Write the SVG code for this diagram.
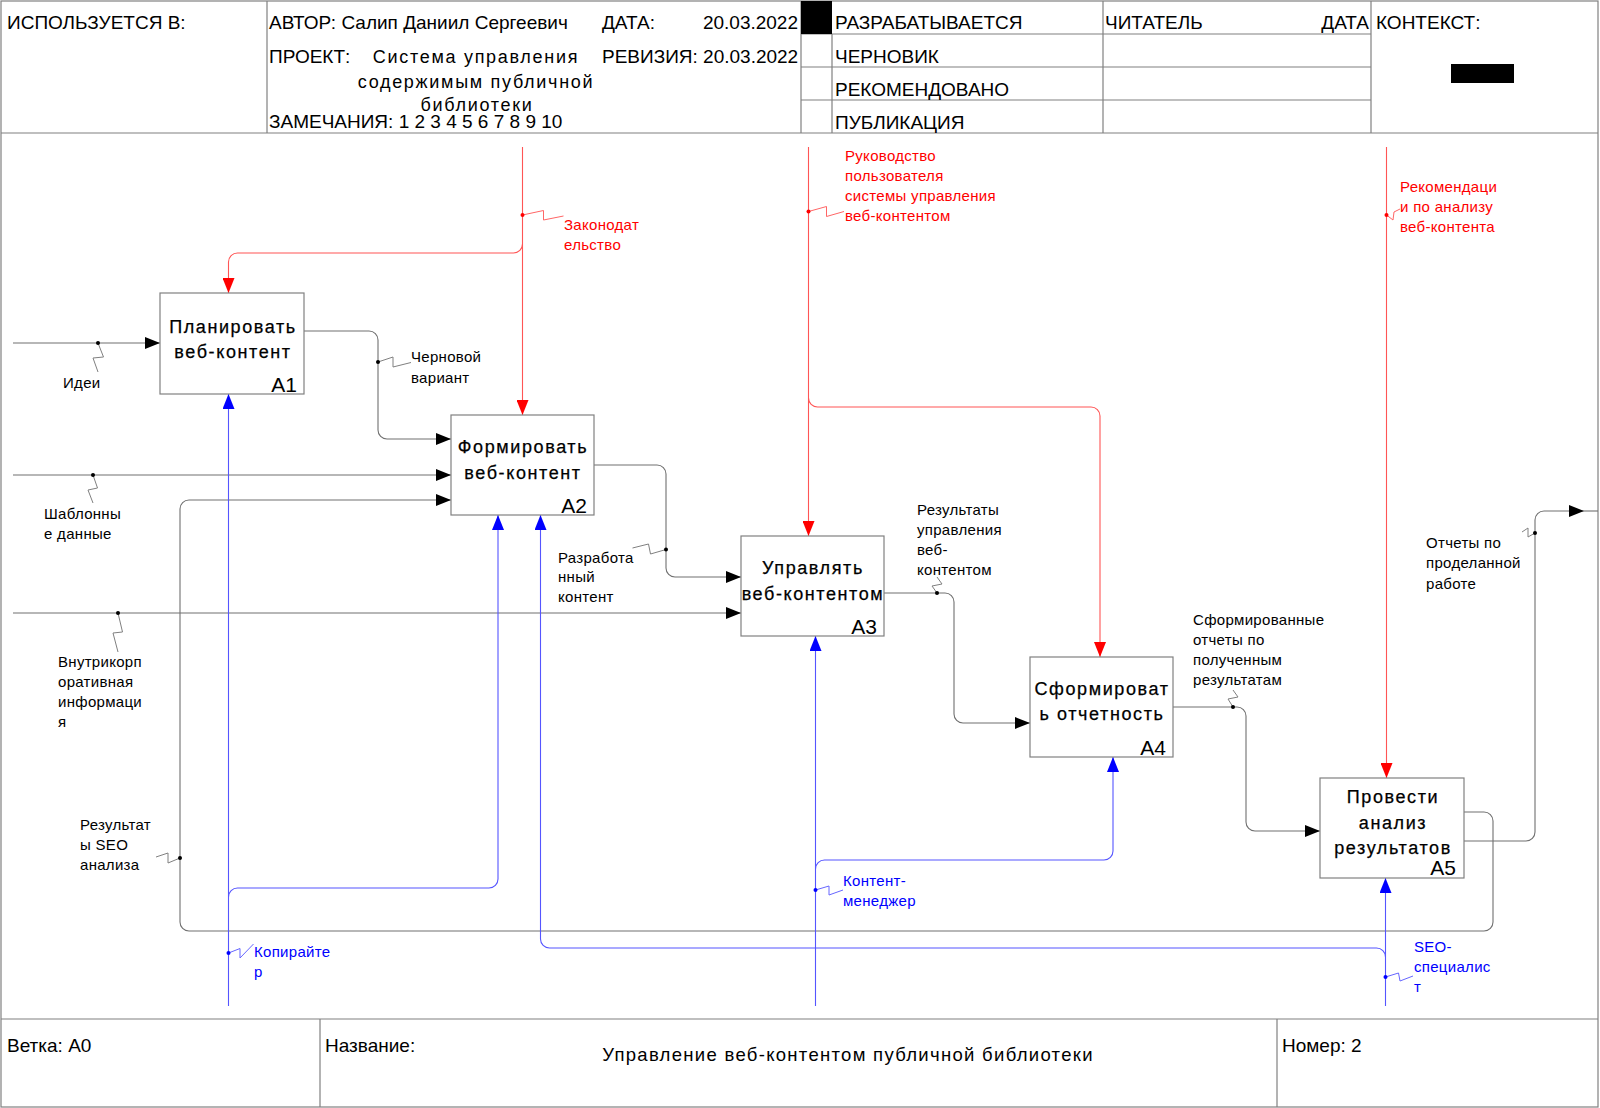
<svg xmlns="http://www.w3.org/2000/svg" width="1600" height="1108" viewBox="0 0 1600 1108">
<defs>
<style>
text{font-family:"Liberation Sans",Arial,sans-serif;fill:#000}
.hd{font-size:19px}
.pj{font-size:18px;letter-spacing:1.7px;text-anchor:middle}
.bx{font-size:18px;letter-spacing:1.6px;text-anchor:middle;stroke:#000;stroke-width:0.25}
.id{font-size:21px;text-anchor:end}
.lb{font-size:15px;letter-spacing:0.3px}
.lr{fill:#ff0000}
.lbl{fill:#0000ff}
.frame{fill:none;stroke:#808080;stroke-width:1.2}
.box{fill:#fff;stroke:#808080;stroke-width:1.2}
.ck{fill:none;stroke:#707070;stroke-width:1.1}
.cr{fill:none;stroke:#ff5555;stroke-width:1.1}
.cb{fill:none;stroke:#5555ff;stroke-width:1.1}
.sk{fill:none;stroke:#808080;stroke-width:1}
.sr{fill:none;stroke:#ff6666;stroke-width:1}
.sb{fill:none;stroke:#6666ff;stroke-width:1}
</style>
<marker id="ak" markerUnits="userSpaceOnUse" markerWidth="16" markerHeight="12" refX="15" refY="6" orient="auto"><path d="M0,0 L15,6 L0,12 z" fill="#000"/></marker>
<marker id="ar" markerUnits="userSpaceOnUse" markerWidth="16" markerHeight="12" refX="15" refY="6" orient="auto"><path d="M0,0 L15,6 L0,12 z" fill="#ff0000"/></marker>
<marker id="ab" markerUnits="userSpaceOnUse" markerWidth="16" markerHeight="12" refX="15" refY="6" orient="auto"><path d="M0,0 L15,6 L0,12 z" fill="#0000ff"/></marker>
</defs>
<rect width="1600" height="1108" fill="#fff"/>

<g id="header">
<rect class="frame" x="1" y="1" width="1597" height="1106"/>
<line class="frame" x1="1" y1="133" x2="1598" y2="133"/>
<line class="frame" x1="267" y1="1" x2="267" y2="133"/>
<line class="frame" x1="801" y1="1" x2="801" y2="133"/>
<line class="frame" x1="832" y1="34" x2="832" y2="133"/>
<line class="frame" x1="1103" y1="1" x2="1103" y2="133"/>
<line class="frame" x1="1371" y1="1" x2="1371" y2="133"/>
<line class="frame" x1="801" y1="34" x2="1371" y2="34"/>
<line class="frame" x1="801" y1="67" x2="1371" y2="67"/>
<line class="frame" x1="801" y1="100" x2="1371" y2="100"/>
<rect x="801" y="1" width="31" height="33" fill="#000"/>
<rect x="1451" y="64" width="63" height="19" fill="#000"/>
<text class="hd" x="7" y="29">ИСПОЛЬЗУЕТСЯ В:</text>
<text class="hd" x="269" y="29">АВТОР: Салип Даниил Сергеевич</text>
<text class="hd" x="602" y="29">ДАТА:</text>
<text class="hd" x="798" y="29" text-anchor="end">20.03.2022</text>
<text class="hd" x="269" y="63">ПРОЕКТ:</text>
<text class="pj" x="476" y="63">Система управления</text>
<text class="pj" x="476" y="88">содержимым публичной</text>
<text class="pj" x="477" y="111">библиотеки</text>
<text class="hd" x="602" y="63">РЕВИЗИЯ: 20.03.2022</text>
<text class="hd" x="269" y="128">ЗАМЕЧАНИЯ: 1 2 3 4 5 6 7 8 9 10</text>
<text class="hd" x="835" y="29">РАЗРАБАТЫВАЕТСЯ</text>
<text class="hd" x="835" y="63">ЧЕРНОВИК</text>
<text class="hd" x="835" y="96">РЕКОМЕНДОВАНО</text>
<text class="hd" x="835" y="129">ПУБЛИКАЦИЯ</text>
<text class="hd" x="1105" y="29">ЧИТАТЕЛЬ</text>
<text class="hd" x="1369" y="29" text-anchor="end">ДАТА</text>
<text class="hd" x="1376" y="29">КОНТЕКСТ:</text>
</g>

<g id="footer">
<line class="frame" x1="1" y1="1019" x2="1598" y2="1019"/>
<line class="frame" x1="320" y1="1019" x2="320" y2="1107"/>
<line class="frame" x1="1277" y1="1019" x2="1277" y2="1107"/>
<text class="hd" x="7" y="1052">Ветка: A0</text>
<text class="hd" x="325" y="1052">Название:</text>
<text x="848" y="1061" text-anchor="middle" style="font-size:18.5px;letter-spacing:1.3px">Управление веб-контентом публичной библиотеки</text>
<text class="hd" x="1282" y="1052">Номер: 2</text>
</g>

<g id="connectors">
<!-- inputs / outputs (black) -->
<path class="ck" d="M13,343 H160" marker-end="url(#ak)"/>
<path class="ck" d="M304,331 H369 A9,9 0 0 1 378,340 V430 A9,9 0 0 0 387,439 H451" marker-end="url(#ak)"/>
<path class="ck" d="M13,475 H451" marker-end="url(#ak)"/>
<path class="ck" d="M1464,812 H1484 A9,9 0 0 1 1493,821 V922 A9,9 0 0 1 1484,931 H189 A9,9 0 0 1 180,922 V509 A9,9 0 0 1 189,500 H451" marker-end="url(#ak)"/>
<path class="ck" d="M13,613 H741" marker-end="url(#ak)"/>
<path class="ck" d="M594,465 H657 A9,9 0 0 1 666,474 V568 A9,9 0 0 0 675,577 H741" marker-end="url(#ak)"/>
<path class="ck" d="M884,593 H945 A9,9 0 0 1 954,602 V714 A9,9 0 0 0 963,723 H1030" marker-end="url(#ak)"/>
<path class="ck" d="M1173,707 H1237 A9,9 0 0 1 1246,716 V822 A9,9 0 0 0 1255,831 H1320" marker-end="url(#ak)"/>
<path class="ck" d="M1464,841 H1526 A9,9 0 0 0 1535,832 V520 A9,9 0 0 1 1544,511 H1584" marker-end="url(#ak)"/>
<line class="ck" x1="1584" y1="511" x2="1598" y2="511"/>
<!-- controls (red) -->
<path class="cr" d="M522.5,147 V415" marker-end="url(#ar)"/>
<path class="cr" d="M522.5,244 A9,9 0 0 1 513.5,253 H237.5 A9,9 0 0 0 228.5,262 V293" marker-end="url(#ar)"/>
<path class="cr" d="M808.5,147 V536" marker-end="url(#ar)"/>
<path class="cr" d="M808.5,398 A9,9 0 0 0 817.5,407 H1091 A9,9 0 0 1 1100,416 V657" marker-end="url(#ar)"/>
<path class="cr" d="M1386.5,147 V778" marker-end="url(#ar)"/>
<!-- mechanisms (blue) -->
<path class="cb" d="M228.5,1006 V394" marker-end="url(#ab)"/>
<path class="cb" d="M228.5,897 A9,9 0 0 1 237.5,888 H489 A9,9 0 0 0 498,879 V515" marker-end="url(#ab)"/>
<path class="cb" d="M815.5,1006 V636" marker-end="url(#ab)"/>
<path class="cb" d="M815.5,869 A9,9 0 0 1 824.5,860 H1104 A9,9 0 0 0 1113,851 V757" marker-end="url(#ab)"/>
<path class="cb" d="M1385.5,1006 V878" marker-end="url(#ab)"/>
<path class="cb" d="M1385.5,957 A9,9 0 0 0 1376.5,948 H549.5 A9,9 0 0 1 540.5,939 V515" marker-end="url(#ab)"/>

<!-- label squiggles and dots -->
<polyline class="sk" points="98,343 103.5,357 93,358 98,372"/>
<circle cx="98" cy="343" r="2" fill="#000"/>
<polyline class="sk" points="378,362 393,357 393,367 411,362.5"/>
<circle cx="378" cy="362" r="2" fill="#000"/>
<polyline class="sk" points="93,475 97.5,488 88,490 93,503"/>
<circle cx="93" cy="475" r="2" fill="#000"/>
<polyline class="sk" points="156,857 168,853 168,863 180,858"/>
<circle cx="180" cy="858" r="2" fill="#000"/>
<polyline class="sk" points="118,613 122.5,632 113,633 118,652"/>
<circle cx="118" cy="613" r="2" fill="#000"/>
<polyline class="sk" points="632.5,548 648.5,544 650.5,554 666,549.5"/>
<circle cx="666" cy="549.5" r="2" fill="#000"/>
<polyline class="sk" points="937,593 932,586 942,584 937,577"/>
<circle cx="937" cy="593" r="2" fill="#000"/>
<polyline class="sk" points="1233,707 1228,699 1238,697 1233,690"/>
<circle cx="1233" cy="707" r="2" fill="#000"/>
<polyline class="sk" points="1535,533 1528,537 1528,528 1522,532"/>
<circle cx="1535" cy="533" r="2" fill="#000"/>
<polyline class="sr" points="522.5,215 543.5,210.5 543.5,220 563.5,216"/>
<circle cx="522.5" cy="215" r="2" fill="#ff0000"/>
<polyline class="sr" points="808.5,211.5 826.5,206.5 826.5,216.5 844,211.5"/>
<circle cx="808.5" cy="211.5" r="2" fill="#ff0000"/>
<polyline class="sr" points="1386.5,215 1393,220 1394,212 1400,209"/>
<circle cx="1386.5" cy="215" r="2" fill="#ff0000"/>
<polyline class="sb" points="228.5,953 240,948.5 240,958 253.5,944"/>
<circle cx="228.5" cy="953" r="2" fill="#0000ff"/>
<polyline class="sb" points="815.5,890 829,886 829,895 843,890"/>
<circle cx="815.5" cy="890" r="2" fill="#0000ff"/>
<polyline class="sb" points="1385.5,977 1398.5,973 1400,981 1413,976"/>
<circle cx="1385.5" cy="977" r="2" fill="#0000ff"/>

<!-- connector labels -->
<text class="lb" x="63" y="388">Идеи</text>
<text class="lb" x="411" y="362">Черновой</text>
<text class="lb" x="411" y="383">вариант</text>
<text class="lb" x="44" y="519">Шаблонны</text>
<text class="lb" x="44" y="539">е данные</text>
<text class="lb" x="80" y="830">Результат</text>
<text class="lb" x="80" y="850">ы SEO</text>
<text class="lb" x="80" y="870">анализа</text>
<text class="lb" x="58" y="667">Внутрикорп</text>
<text class="lb" x="58" y="687">оративная</text>
<text class="lb" x="58" y="707">информаци</text>
<text class="lb" x="58" y="727">я</text>
<text class="lb" x="558" y="563">Разработа</text>
<text class="lb" x="558" y="582">нный</text>
<text class="lb" x="558" y="602">контент</text>
<text class="lb" x="917" y="515">Результаты</text>
<text class="lb" x="917" y="535">управления</text>
<text class="lb" x="917" y="555">веб-</text>
<text class="lb" x="917" y="575">контентом</text>
<text class="lb" x="1193" y="625">Сформированные</text>
<text class="lb" x="1193" y="645">отчеты по</text>
<text class="lb" x="1193" y="665">полученным</text>
<text class="lb" x="1193" y="685">результатам</text>
<text class="lb" x="1426" y="548">Отчеты по</text>
<text class="lb" x="1426" y="568">проделанной</text>
<text class="lb" x="1426" y="589">работе</text>
<text class="lb lr" x="564" y="230">Законодат</text>
<text class="lb lr" x="564" y="250">ельство</text>
<text class="lb lr" x="845" y="161">Руководство</text>
<text class="lb lr" x="845" y="181">пользователя</text>
<text class="lb lr" x="845" y="201">системы управления</text>
<text class="lb lr" x="845" y="221">веб-контентом</text>
<text class="lb lr" x="1400" y="192">Рекомендаци</text>
<text class="lb lr" x="1400" y="212">и по анализу</text>
<text class="lb lr" x="1400" y="232">веб-контента</text>
<text class="lb lbl" x="254" y="957">Копирайте</text>
<text class="lb lbl" x="254" y="977">р</text>
<text class="lb lbl" x="843" y="886">Контент-</text>
<text class="lb lbl" x="843" y="906">менеджер</text>
<text class="lb lbl" x="1414" y="952">SEO-</text>
<text class="lb lbl" x="1414" y="972">специалис</text>
<text class="lb lbl" x="1414" y="992">т</text>
</g>

<g id="A1">
<rect class="box" x="160" y="293" width="144" height="101"/>
<text class="bx" x="233" y="333">Планировать</text>
<text class="bx" x="233" y="358">веб-контент</text>
<text class="id" x="297" y="392">A1</text>
</g>
<g id="A2">
<rect class="box" x="451" y="415" width="143" height="100"/>
<text class="bx" x="523" y="453">Формировать</text>
<text class="bx" x="523" y="479">веб-контент</text>
<text class="id" x="587" y="513">A2</text>
</g>
<g id="A3">
<rect class="box" x="741" y="536" width="143" height="100"/>
<text class="bx" x="813" y="574">Управлять</text>
<text class="bx" x="813" y="600">веб-контентом</text>
<text class="id" x="877" y="634">A3</text>
</g>
<g id="A4">
<rect class="box" x="1030" y="657" width="143" height="100"/>
<text class="bx" x="1102" y="695">Сформироват</text>
<text class="bx" x="1102" y="720">ь отчетность</text>
<text class="id" x="1166" y="755">A4</text>
</g>
<g id="A5">
<rect class="box" x="1320" y="778" width="144" height="100"/>
<text class="bx" x="1393" y="803">Провести</text>
<text class="bx" x="1393" y="829">анализ</text>
<text class="bx" x="1393" y="854">результатов</text>
<text class="id" x="1456" y="875">A5</text>
</g>
</svg>
